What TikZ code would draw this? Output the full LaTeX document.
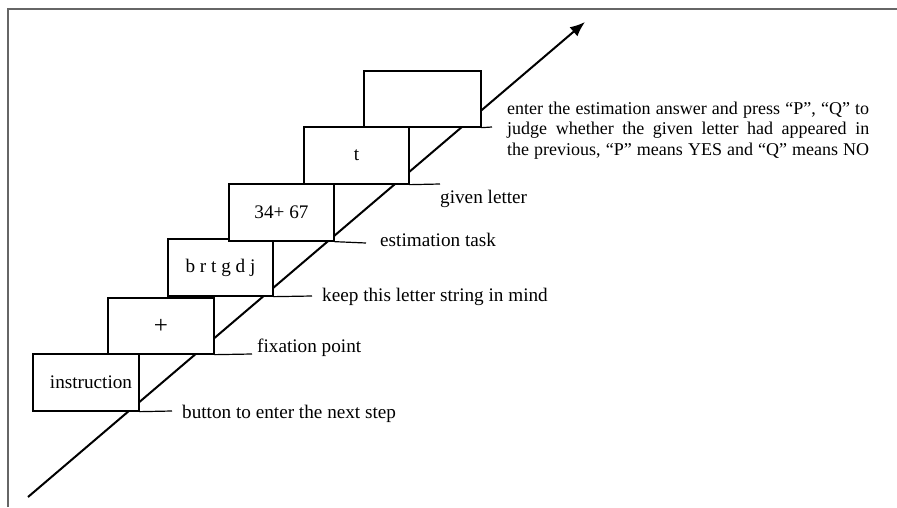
\documentclass[tikz,border=0pt]{standalone}
\usepackage{fontspec}
\setmainfont{Liberation Serif}
\usetikzlibrary{arrows.meta}
\begin{document}
\begin{tikzpicture}[x=1pt,y=-1pt,
  stepbox/.style={draw=black,line width=1.3pt,fill=white,inner sep=0pt,minimum height=57pt,font=\fontsize{19.2}{21}\selectfont},
  lead/.style={draw=black,line width=1.2pt},
  lbl/.style={anchor=base west,inner sep=0pt,font=\fontsize{19.2}{21}\selectfont},
  lblsmall/.style={lbl,font=\fontsize{18}{21}\selectfont},
  frame/.style={draw=black!60,line width=2.2pt}]
\useasboundingbox (0,0) rectangle (897,507);
% frame
\draw[frame] (8,507) -- (8,9) -- (897,9);
% time arrow
\coordinate (s) at (28,497);
\coordinate (e) at (585,22);
\draw[line width=2pt,-{Latex[length=15pt,width=12pt]}] (s) -- (e);
% boxes
\node[stepbox,minimum width=106pt] (b1) at (86,382.5) {\hspace*{10pt}instruction};
\node[stepbox,minimum width=106pt,minimum height=56pt,font=\fontsize{25}{25}\selectfont] (b2) at (161,326) {+};
\node[stepbox,minimum width=105pt] (b3) at (220.5,267.5) {b r t g d j};
\node[stepbox,minimum width=105pt] (b4) at (281.5,212.5) {34+ 67};
\node[stepbox,minimum width=105pt] (b5) at (356.5,155.5) {t};
\node[stepbox,minimum width=117pt,minimum height=56pt] (b6) at (422.5,99) {};
% leader ends
\coordinate (l1) at (172,411);
\coordinate (l2) at (252,354);
\coordinate (l3) at (312,296);
\coordinate (l4) at (366,243);
\coordinate (l5) at (440,184);
\coordinate (l6) at (492,127);
\draw[lead] (b1.south east) -- (l1);
\draw[lead] (b2.south east) -- (l2);
\draw[lead] (b3.south east) -- (l3);
\draw[lead] (b4.south east) -- (l4);
\draw[lead] (b5.south east) -- (l5);
\draw[lead] (b6.south east) -- (l6);
% labels
\node[lbl] (t1) at (182,418) {button to enter the next step};
\node[lbl] (t2) at (257,352) {fixation point};
\node[lbl] (t3) at (322,301) {keep this letter string in mind};
\node[lbl] (t4) at (380,246) {estimation task};
\node[lbl] (t5) at (440,203) {given letter};
\node[lblsmall] (t6a) at (507,114) {\makebox[362pt][s]{enter the estimation answer and press “P”, “Q” to}};
\node[lblsmall] (t6b) at (507,134.5) {\makebox[362pt][s]{judge whether the given letter had appeared in}};
\node[lblsmall] (t6c) at (507,155) {\makebox[362pt][s]{the previous, “P” means YES and “Q” means NO}};
\end{tikzpicture}
\end{document}
